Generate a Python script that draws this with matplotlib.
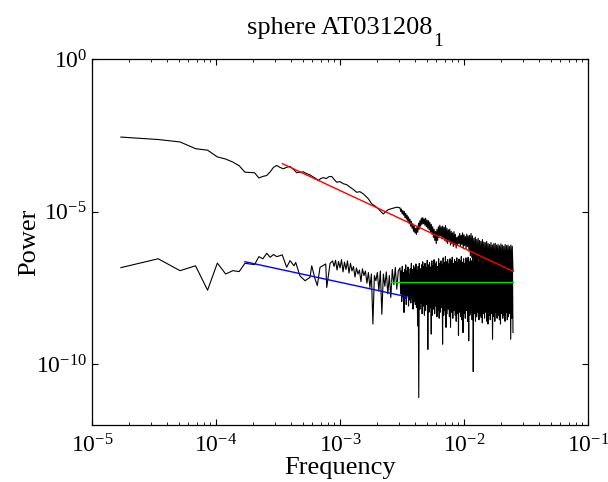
import numpy as np
import matplotlib.pyplot as plt
from matplotlib.ticker import LogLocator, NullLocator, FixedLocator

plt.rcParams['font.family'] = ['Liberation Serif', 'DejaVu Serif']
plt.rcParams['mathtext.fontset'] = 'custom'
plt.rcParams['mathtext.rm'] = 'Liberation Serif'
plt.rcParams['mathtext.it'] = 'Liberation Serif:italic'

# upper spectrum, low-frequency part (log10 f, log10 P)
top_logf = [-4.767, -4.466, -4.290, -4.165, -4.068, -3.989, -3.922, -3.864, -3.813, -3.767,
            -3.726, -3.689, -3.654, -3.622, -3.591, -3.563, -3.536, -3.510, -3.486, -3.457,
            -3.430, -3.403, -3.375, -3.349, -3.323, -3.296, -3.269, -3.242, -3.215, -3.195,
            -3.175, -3.155, -3.135, -3.110, -3.090, -3.067, -3.047, -3.027, -3.000, -2.973,
            -2.946, -2.919, -2.892, -2.865, -2.840, -2.812, -2.792, -2.772, -2.744, -2.718,
            -2.691, -2.671, -2.651, -2.630, -2.610, -2.580, -2.543]
top_logp = [-2.56, -2.64, -2.72, -2.94, -2.99, -3.21, -3.28, -3.38, -3.50, -3.71,
            -3.72, -3.73, -3.90, -3.85, -3.82, -3.70, -3.55, -3.49, -3.55, -3.60,
            -3.55, -3.52, -3.62, -3.73, -3.71, -3.70, -3.76, -3.80, -3.87, -3.92,
            -3.98, -3.92, -3.89, -3.92, -3.86, -3.85, -3.95, -4.04, -4.02, -4.09,
            -4.12, -4.20, -4.28, -4.37, -4.35, -4.42, -4.50, -4.58, -4.75, -4.82,
            -4.91, -5.00, -5.08, -5.00, -4.94, -4.90, -4.86]

# upper spectrum, high-frequency noisy part: peaks and troughs
top_hf_range = [-2.516, -1.605]
top_hf_hi = [-4.88, -4.92, -4.97, -5.00, -5.06, -5.12, -5.18, -5.25, -5.32, -5.40,
             -5.48, -5.55, -5.50, -5.38, -5.30, -5.22, -5.20, -5.24, -5.22, -5.28,
             -5.30, -5.35, -5.42, -5.50, -5.58, -5.65, -5.58, -5.50, -5.45, -5.50,
             -5.48, -5.52, -5.46, -5.55, -5.60, -5.58, -5.65, -5.70, -5.66, -5.75,
             -5.85, -5.80, -5.72, -5.78, -5.70, -5.76, -5.82, -5.74, -5.80, -5.78,
             -5.72, -5.80, -5.88, -5.84, -5.92, -5.88, -5.95, -5.98, -5.92, -6.00,
             -6.02, -5.98, -6.05, -6.08, -6.02, -6.10, -6.06, -6.04, -6.10, -6.08,
             -6.12, -6.06, -6.10, -6.14, -6.08, -6.12, -6.10, -6.15, -6.10, -6.14]
top_hf_lo = [-5.00, -5.08, -5.12, -5.20, -5.25, -5.32, -5.40, -5.48, -5.55, -5.65,
             -5.70, -5.75, -5.68, -5.58, -5.48, -5.42, -5.40, -5.45, -5.50, -5.55,
             -5.60, -5.68, -5.75, -5.85, -5.95, -6.05, -5.95, -5.85, -5.80, -5.90,
             -5.85, -5.95, -6.00, -6.05, -5.95, -6.10, -6.05, -6.15, -6.10, -6.20,
             -6.10, -6.05, -6.15, -6.08, -6.20, -6.12, -6.22, -6.15, -6.30, -6.45,
             -6.50, -6.65, -6.55, -6.75, -6.60, -6.70, -6.80, -6.65, -6.75, -6.85,
             -6.70, -6.90, -6.75, -6.85, -6.95, -6.80, -6.90, -7.00, -6.85, -6.95,
             -6.80, -7.00, -6.90, -6.85, -7.05, -6.90, -6.95, -7.00, -6.88, -6.95]

# lower spectrum, low-frequency part
bot_logf = [-4.767, -4.466, -4.290, -4.165, -4.068, -3.989, -3.922, -3.864, -3.813, -3.767,
            -3.726, -3.689, -3.654, -3.622, -3.591, -3.563, -3.536, -3.510, -3.486, -3.466,
            -3.430, -3.403, -3.371, -3.357, -3.323, -3.282, -3.242, -3.228, -3.202, -3.183,
            -3.161, -3.115, -3.107, -3.080]
bot_logp = [-6.84, -6.55, -6.94, -6.78, -7.58, -6.69, -7.05, -6.94, -6.97, -6.70,
            -6.72, -6.74, -6.48, -6.55, -6.37, -6.50, -6.41, -6.48, -6.45, -6.42,
            -6.83, -6.61, -6.78, -6.67, -7.11, -7.27, -7.16, -6.78, -7.20, -7.43,
            -6.83, -6.72, -7.49, -6.70]

# lower spectrum, middle part
bot_mid_range = [-3.060, -2.530]
bot_mid_logp = [-6.62, -6.80, -6.60, -6.92, -6.64, -6.85, -6.58, -6.98, -6.66, -6.90,
                -6.62, -7.02, -6.70, -6.95, -6.80, -7.15, -6.85, -7.05, -6.92, -7.30,
                -6.88, -7.10, -6.95, -7.35, -7.00, -7.49, -7.05, -8.69, -7.10, -7.27,
                -7.00, -7.60, -6.95, -8.37, -7.05, -7.45, -6.98, -7.70, -7.10, -7.82,
                -6.90, -7.40, -6.83, -7.55, -6.95]

# lower spectrum, high-frequency noisy part
bot_hf_range = [-2.516, -1.605]
bot_hf_hi = [-6.85, -6.95, -6.80, -7.00, -6.90, -6.75, -6.95, -6.82, -7.05, -6.88,
             -6.70, -6.90, -6.78, -6.85, -6.72, -6.95, -6.80, -6.70, -6.88, -6.75,
             -6.65, -6.80, -6.70, -6.85, -6.60, -6.75, -6.68, -6.82, -6.62, -6.78,
             -6.58, -6.72, -6.65, -6.80, -6.55, -6.70, -6.62, -6.75, -6.52, -6.68,
             -6.48, -6.65, -6.58, -6.72, -6.55, -6.62, -6.50, -6.70, -6.58, -6.64,
             -6.52, -6.68, -6.56, -6.62, -6.48, -6.66, -6.55, -6.70, -6.52, -6.60,
             -6.50, -6.65, -6.55, -6.62, -6.48, -6.68, -6.54, -6.60, -6.50, -6.66,
             -6.52, -6.62, -6.48, -6.70, -6.55, -6.60, -6.50, -6.65, -6.54, -6.62,
             -6.50, -6.66, -6.55, -6.60, -6.48, -6.64, -6.52, -6.62, -6.56, -6.68,
             -6.50, -6.60, -6.54, -6.66, -6.50, -6.62, -6.55, -6.60, -6.52, -6.58]
bot_hf_lo = [-7.70, -7.95, -7.80, -8.31, -7.85, -8.05, -7.75, -8.10, -7.90, -8.00,
             -7.85, -8.20, -7.95, -8.05, -8.15, -8.75, -11.10, -8.20, -8.00, -8.35,
             -8.10, -8.40, -8.25, -8.05, -9.52, -8.30, -8.15, -9.02, -8.40, -8.20,
             -8.35, -8.10, -8.45, -8.25, -8.50, -8.30, -8.15, -9.35, -8.40, -8.25,
             -8.80, -8.35, -8.20, -8.45, -8.80, -8.30, -8.50, -8.25, -8.40, -8.60,
             -8.35, -9.06, -8.30, -8.45, -8.55, -8.97, -8.35, -8.50, -8.25, -8.60,
             -9.24, -8.40, -8.30, -8.55, -10.25, -8.35, -8.60, -8.45, -8.30, -8.55,
             -8.40, -8.48, -8.65, -8.35, -8.50, -8.30, -8.60, -8.69, -8.40, -8.55,
             -8.35, -9.19, -8.45, -8.60, -8.30, -8.50, -8.40, -8.55, -8.69, -8.35,
             -8.50, -8.40, -8.60, -8.30, -8.55, -8.45, -8.35, -9.19, -8.50, -8.97]

# power-law fits and noise level
red_f = [3.43e-4, 2.50e-2]
red_p = [3.71e-4, 1.09e-7]
blue_f = [1.71e-4, 3.47e-3]
blue_p = [2.26e-7, 1.60e-8]
green_f = [2.58e-3, 2.50e-2]
green_p = [4.87e-8, 4.87e-8]


def noisy(rng, hi, lo):
    vals = np.column_stack([hi, lo]).ravel()
    lf = np.linspace(rng[0], rng[1], len(vals))
    return lf, vals


fig = plt.figure(figsize=(6.08, 4.82), dpi=100)
ax = fig.add_axes([92 / 608, 57 / 482, 496 / 608, 366 / 482])

lf, lp = noisy(top_hf_range, top_hf_hi, top_hf_lo)
top_x = 10 ** np.concatenate([top_logf, lf])
top_y = 10 ** np.concatenate([top_logp, lp])

mf = np.linspace(bot_mid_range[0], bot_mid_range[1], len(bot_mid_logp))
hf, hp = noisy(bot_hf_range, bot_hf_hi, bot_hf_lo)
bot_x = 10 ** np.concatenate([bot_logf, mf, hf])
bot_y = 10 ** np.concatenate([bot_logp, bot_mid_logp, hp])

ax.loglog(top_x, top_y, color='k', lw=0.8)
ax.loglog(bot_x, bot_y, color='k', lw=0.8)
ax.loglog(red_f, red_p, color='r', lw=1.0)
ax.loglog(blue_f, blue_p, color='b', lw=1.0)
ax.loglog(green_f, green_p, color=(0, 0.85, 0), lw=1.0)

ax.set_xlim(1e-5, 1e-1)
ax.set_ylim(1e-12, 1e0)
ax.xaxis.set_major_locator(LogLocator(base=10, numticks=10))
ax.xaxis.set_minor_locator(LogLocator(base=10, subs=np.arange(2, 10), numticks=20))
ax.yaxis.set_major_locator(FixedLocator([1e-10, 1e-5, 1e0]))
ax.yaxis.set_minor_locator(NullLocator())
ax.tick_params(which='both', direction='in', top=True, right=True, labelsize=17)
ax.tick_params(which='major', length=4, width=0.8)
ax.tick_params(which='minor', length=2.2, width=0.6)
ax.tick_params(axis='x', which='major', pad=7)
for s in ax.spines.values():
    s.set_linewidth(0.9)

ax.set_xlabel('Frequency', fontsize=19, labelpad=-1)
ax.set_ylabel('Power', fontsize=19, labelpad=-3)
title = ax.set_title('sphere AT031208', fontsize=19, pad=18)
ax.annotate('1', xy=(1, 0), xycoords=title, xytext=(0, -5),
            textcoords='offset points', fontsize=14, va='baseline', ha='left')

fig.savefig('out.png', dpi=100)
